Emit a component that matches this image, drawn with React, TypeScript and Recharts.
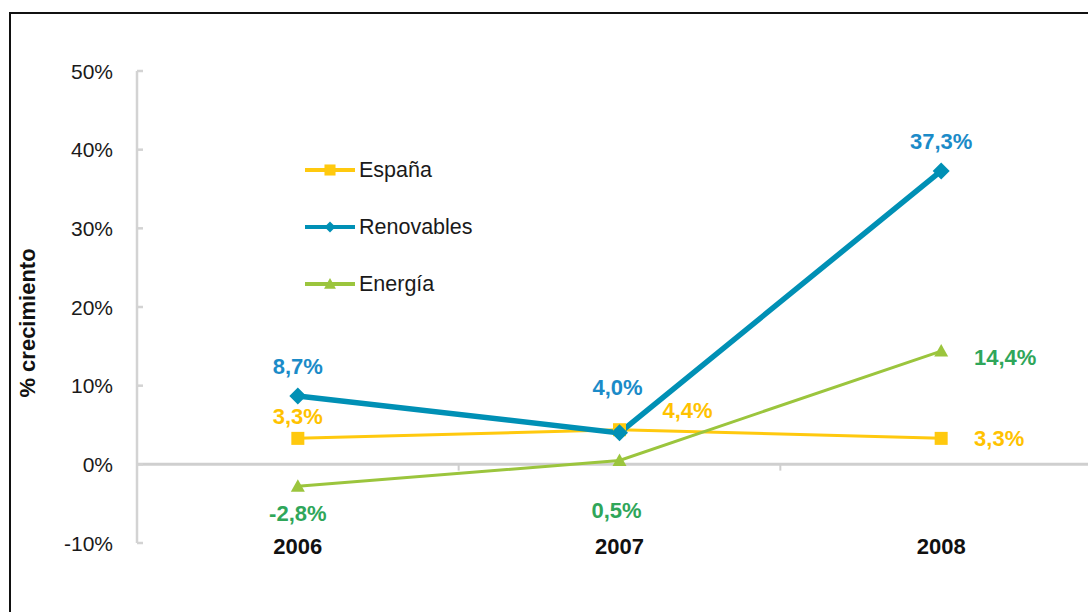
import React from 'react';
import { LineChart, Line, XAxis, YAxis, ReferenceLine, LabelList, Legend } from 'recharts';

const years = ['2006', '2007', '2008'];
const espana = [3.3, 4.4, 3.3];
const renovables = [8.7, 4.0, 37.3];
const energia = [-2.8, 0.5, 14.4];
const yTicks = [-10, 0, 10, 20, 30, 40, 50];
const seriesNames = ['España', 'Renovables', 'Energía'];
const yTitle = '% crecimiento';

const data = years.map((year, i) => ({
  x: i,
  year,
  espana: espana[i],
  renovables: renovables[i],
  energia: energia[i],
}));

const FONT = '"Liberation Sans", Arial, Helvetica, sans-serif';
const LINE = { espana: '#FFC90E', renovables: '#0090B5', energia: '#9BC53D' };
const LABEL = { espana: '#FFC200', renovables: '#1B8BC8', energia: '#2FA65A' };
const LABEL_OFFSETS: Record<string, number[][]> = {
  espana: [[0, -22], [68, -20], [58, 0]],
  renovables: [[0, -30], [-2, -46], [0, -30]],
  energia: [[0, 27], [-3, 50], [64, 6]],
};

const fmt = (v: number) => v.toFixed(1).replace('.', ',') + '%';

const makeLabel = (key: string) => (props: any) => {
  const { x, y, value, index } = props;
  const [dx, dy] = LABEL_OFFSETS[key][index] || [0, 0];
  return (
    <text
      key={`${key}-l-${index}`}
      x={x + dx}
      y={y + dy + 8}
      textAnchor="middle"
      fill={(LABEL as any)[key]}
      fontWeight="bold"
      fontSize={22}
      fontFamily={FONT}
    >
      {fmt(value)}
    </text>
  );
};

const marker = (shape: string, cx: number, cy: number, color: string, s = 1, key?: any) => {
  if (shape === 'square') {
    return <rect key={key} x={cx - 6.5 * s} y={cy - 6.5 * s} width={13 * s} height={13 * s} fill={color} />;
  }
  if (shape === 'diamond') {
    return (
      <polygon
        key={key}
        points={`${cx},${cy - 8.5 * s} ${cx + 8.5 * s},${cy} ${cx},${cy + 8.5 * s} ${cx - 8.5 * s},${cy}`}
        fill={color}
      />
    );
  }
  return (
    <polygon
      key={key}
      points={`${cx},${cy - 7 * s} ${cx + 7 * s},${cy + 5.5 * s} ${cx - 7 * s},${cy + 5.5 * s}`}
      fill={color}
    />
  );
};

const makeDot = (shape: string, color: string) => (props: any) => {
  const { cx, cy, index } = props;
  return marker(shape, cx, cy, color, 1, `${shape}-${index}`);
};

const legendItems = [
  { name: seriesNames[0], color: LINE.espana, shape: 'square', s: 0.85 },
  { name: seriesNames[1], color: LINE.renovables, shape: 'diamond', s: 0.65 },
  { name: seriesNames[2], color: LINE.energia, shape: 'triangle', s: 0.85 },
];

const renderLegend = () => (
  <div style={{ fontFamily: FONT }}>
    {legendItems.map((item) => (
      <div key={item.name} style={{ display: 'flex', alignItems: 'center', height: 30, marginBottom: 27 }}>
        <svg width={54} height={20} style={{ display: 'block' }}>
          <line x1={0} x2={50} y1={10} y2={10} stroke={item.color} strokeWidth={4} />
          {marker(item.shape, 25, 10, item.color, item.s)}
        </svg>
        <span style={{ fontSize: 21.5, color: '#1a1a1a', lineHeight: '30px' }}>{item.name}</span>
      </div>
    ))}
  </div>
);

const YTick = (props: any) => {
  const { x, y, payload } = props;
  return (
    <g>
      <line x1={x} x2={x + 6} y1={y} y2={y} stroke="#d3d3d3" strokeWidth={2.5} />
      <text x={x - 24} y={y + 7.5} textAnchor="end" fontSize={21} fontFamily={FONT} fill="#1a1a1a">
        {payload.value}%
      </text>
    </g>
  );
};

const XTick = (props: any) => {
  const { x, y, payload } = props;
  return (
    <text x={x} y={y + 11} textAnchor="middle" fontSize={22} fontWeight="bold" fontFamily={FONT} fill="#111">
      {years[payload.value]}
    </text>
  );
};

const YTitle = (props: any) => {
  const vb = props.viewBox || { x: 0, y: 71, width: 137, height: 472 };
  const cx = vb.x + 27;
  const cy = vb.y + vb.height / 2 + 16;
  return (
    <text
      x={cx}
      y={cy + 8}
      transform={`rotate(-90, ${cx}, ${cy})`}
      textAnchor="middle"
      fontSize={22}
      fontWeight="bold"
      fontFamily={FONT}
      fill="#111"
    >
      {yTitle}
    </text>
  );
};

export default function App() {
  return (
    <div style={{ position: 'fixed', left: 0, top: 0, width: 1088, height: 612, overflow: 'hidden', background: '#fff' }}>
      <div
        style={{
          position: 'absolute',
          left: 9,
          top: 12,
          width: 1200,
          height: 700,
          border: '2px solid #111',
          boxSizing: 'border-box',
        }}
      />
      <div style={{ position: 'absolute', left: 0, top: 0 }}>
        <LineChart width={1120} height={612} data={data} margin={{ top: 71, right: 18, bottom: 0, left: 0 }}>
          <XAxis
            dataKey="x"
            type="number"
            domain={[-0.5, 2.5]}
            ticks={[0, 1, 2]}
            axisLine={false}
            tickLine={false}
            tickSize={0}
            tickMargin={0}
            height={69}
            tick={<XTick />}
            interval={0}
          />
          <YAxis
            type="number"
            domain={[-10, 50]}
            ticks={yTicks}
            width={137}
            axisLine={{ stroke: '#d3d3d3', strokeWidth: 2.5 }}
            tickLine={false}
            tickSize={0}
            tickMargin={0}
            tick={<YTick />}
            interval={0}
            label={YTitle}
          />
          <ReferenceLine y={0} stroke="#cfcfcf" strokeWidth={3} />
          <ReferenceLine segment={[{ x: 0.5, y: 0 }, { x: 0.5, y: -0.8 }]} stroke="#cfcfcf" strokeWidth={2} />
          <ReferenceLine segment={[{ x: 1.5, y: 0 }, { x: 1.5, y: -0.8 }]} stroke="#cfcfcf" strokeWidth={2} />
          <Legend
            layout="vertical"
            align="center"
            verticalAlign="middle"
            content={renderLegend}
            wrapperStyle={{ left: 305, top: 155, width: 260, height: 'auto' }}
          />
          <Line
            type="linear"
            dataKey="espana"
            name={seriesNames[0]}
            stroke={LINE.espana}
            strokeWidth={3}
            dot={makeDot('square', LINE.espana)}
            activeDot={false}
            isAnimationActive={false}
          >
            <LabelList dataKey="espana" content={makeLabel('espana')} />
          </Line>
          <Line
            type="linear"
            dataKey="renovables"
            name={seriesNames[1]}
            stroke={LINE.renovables}
            strokeWidth={5.5}
            dot={makeDot('diamond', LINE.renovables)}
            activeDot={false}
            isAnimationActive={false}
          >
            <LabelList dataKey="renovables" content={makeLabel('renovables')} />
          </Line>
          <Line
            type="linear"
            dataKey="energia"
            name={seriesNames[2]}
            stroke={LINE.energia}
            strokeWidth={3}
            dot={makeDot('triangle', LINE.energia)}
            activeDot={false}
            isAnimationActive={false}
          >
            <LabelList dataKey="energia" content={makeLabel('energia')} />
          </Line>
        </LineChart>
      </div>
    </div>
  );
}
